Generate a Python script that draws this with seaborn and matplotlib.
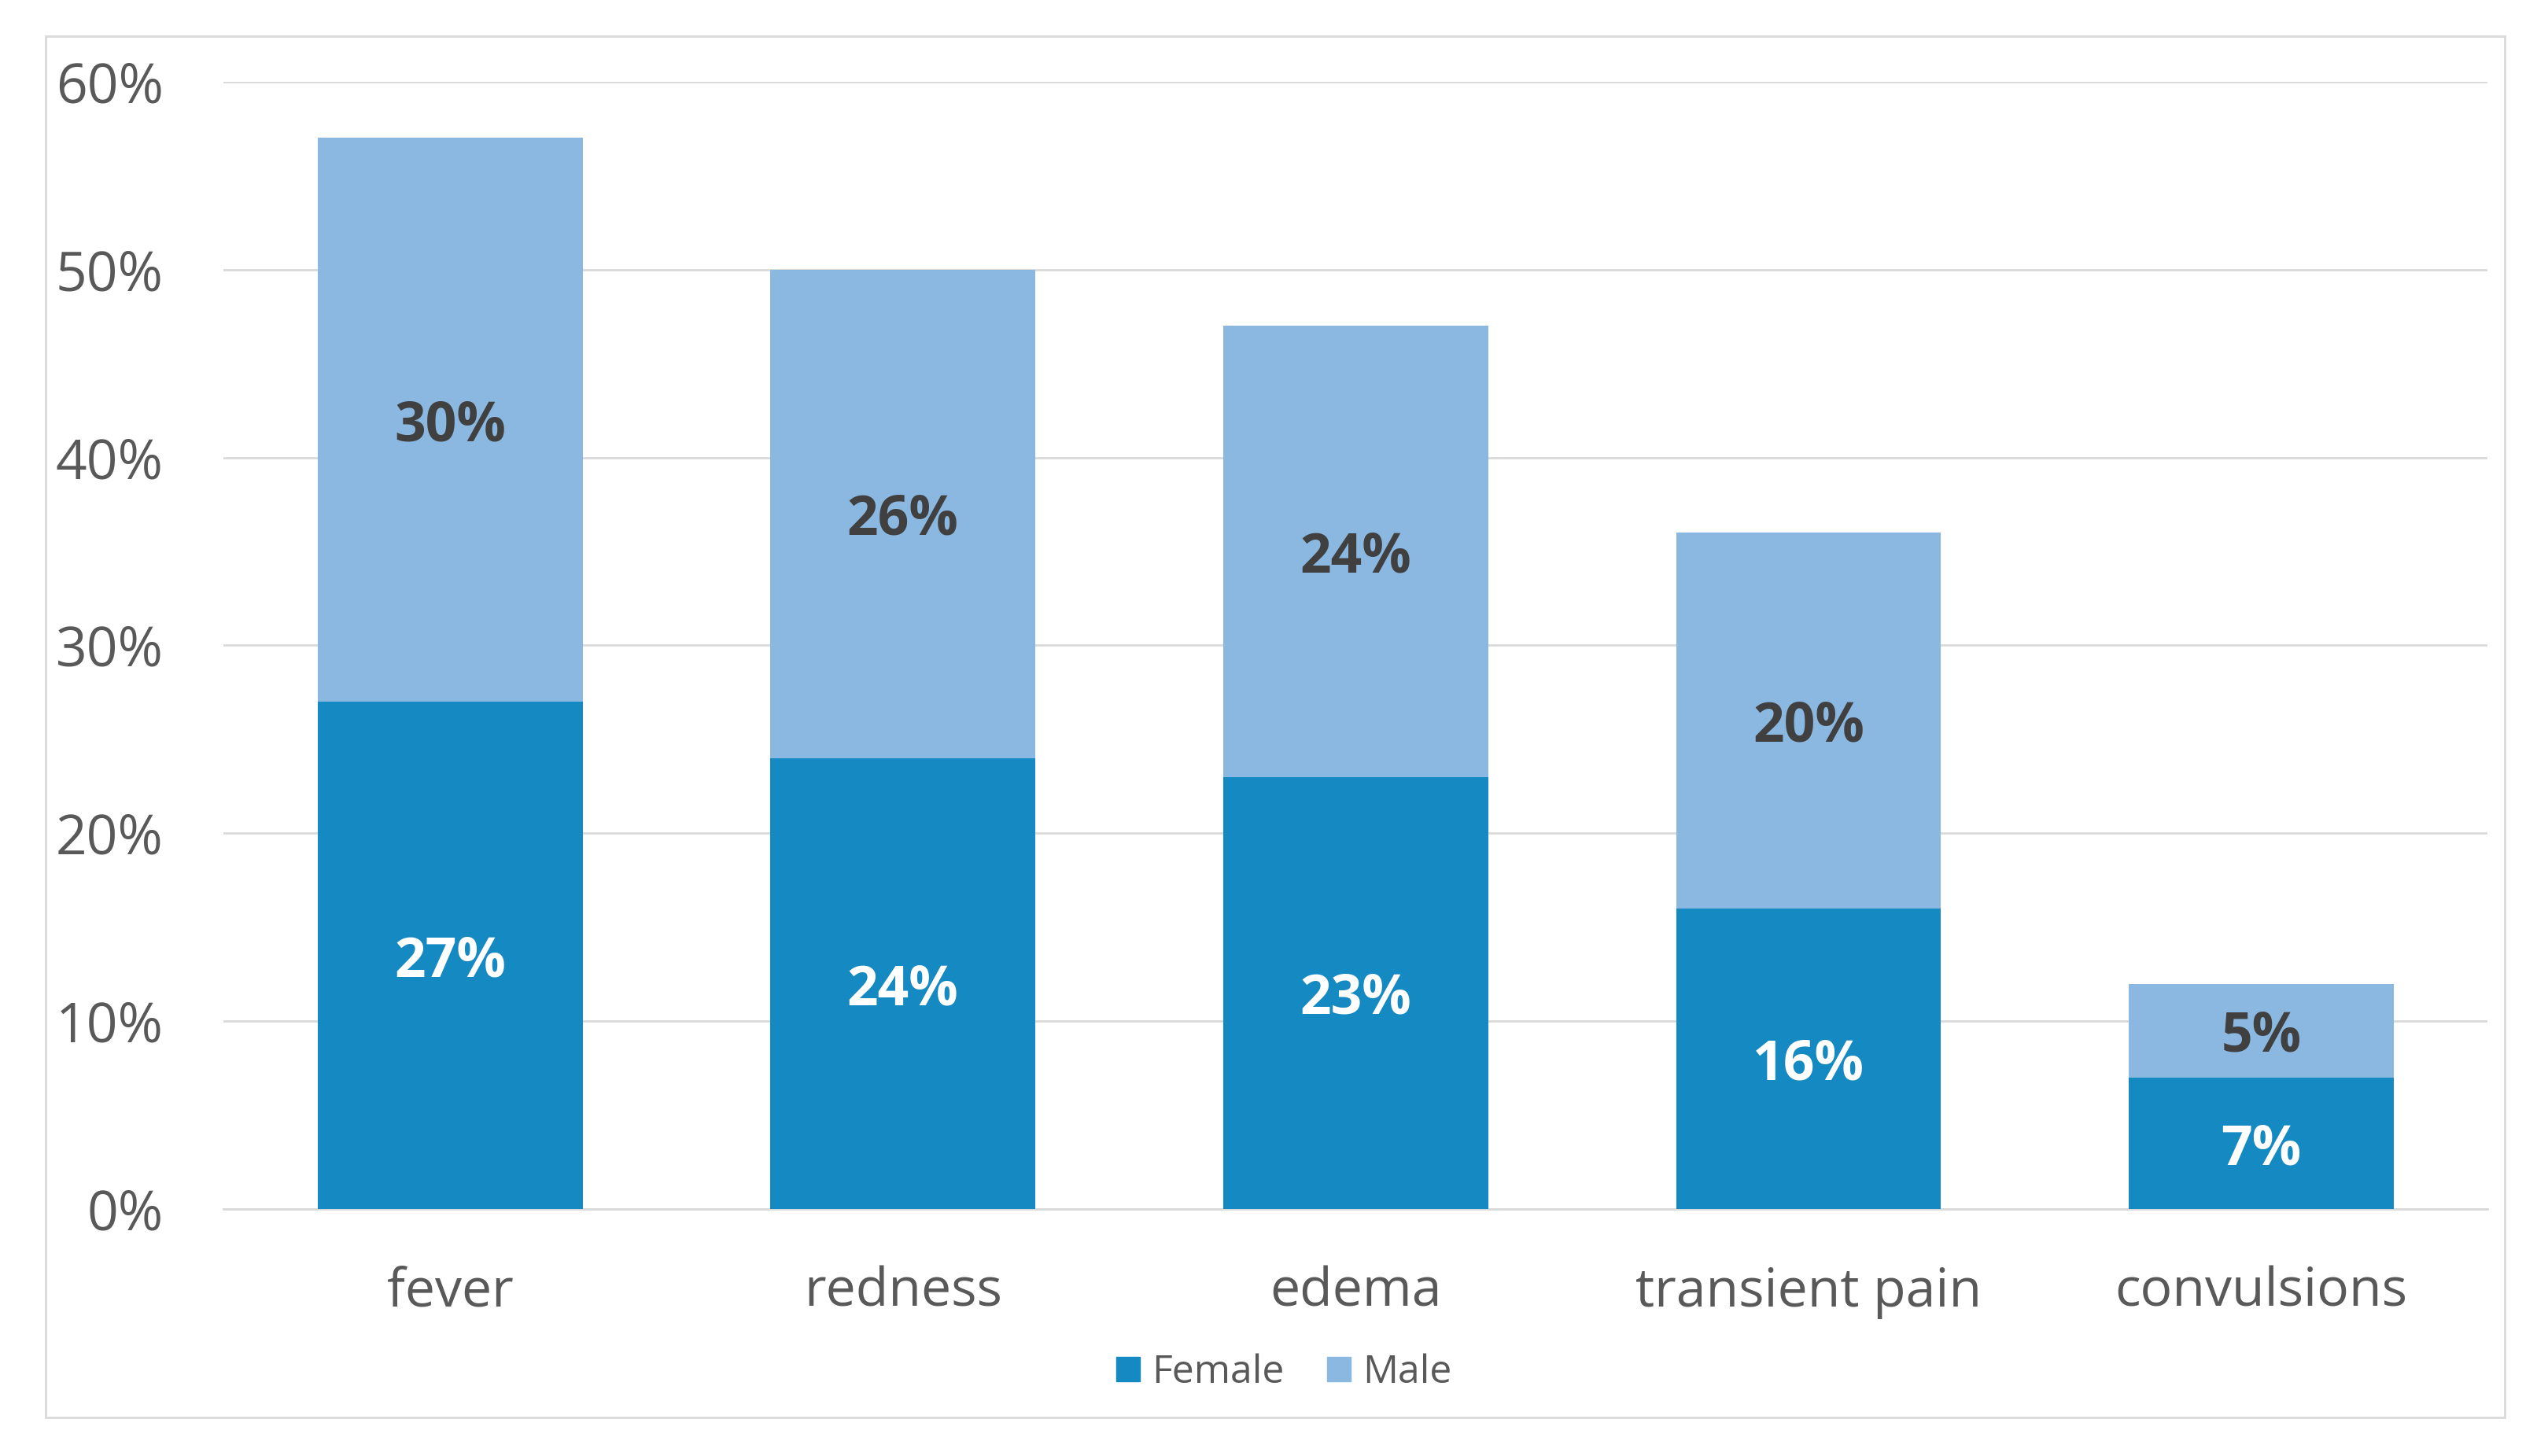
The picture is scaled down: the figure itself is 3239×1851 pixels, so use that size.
import numpy as np
import pandas as pd
import matplotlib.pyplot as plt
import seaborn as sns
from matplotlib.patches import Rectangle, Patch

# data (percent)
categories = ['fever', 'redness', 'edema', 'transient pain', 'convulsions']
female = [27, 24, 23, 16, 7]
male = [30, 26, 24, 20, 5]
yticks = [0, 10, 20, 30, 40, 50, 60]

df = pd.DataFrame({'symptom': categories, 'Female': female, 'Male': male})
df['Total'] = df['Female'] + df['Male']

female_col = '#1589C2'
male_col = '#8BB8E0'
text_col = '#595959'
grid_col = '#D9D9D9'

sns.set_style('white')
plt.rcParams['font.family'] = ['Open Sans', 'DejaVu Sans']

fig = plt.figure(figsize=(32.39, 18.51), dpi=100)
ax = fig.add_axes([0.0878, 0.1695, 0.8885, 0.7745])

# male stacked on top: draw total first, female over it
sns.barplot(data=df, x='symptom', y='Total', color=male_col, width=0.585,
            saturation=1, errorbar=None, linewidth=0, ax=ax, zorder=2)
sns.barplot(data=df, x='symptom', y='Female', color=female_col, width=0.585,
            saturation=1, errorbar=None, linewidth=0, ax=ax, zorder=3)

# value labels
for i, (f, m) in enumerate(zip(female, male)):
    ax.text(i, f / 2, f'{f}%', ha='center', va='center_baseline', color='white',
            fontsize=50, fontweight='bold', zorder=5)
    ax.text(i, f + m / 2, f'{m}%', ha='center', va='center_baseline', color='#404040',
            fontsize=50, fontweight='bold', zorder=5)

ax.set_xlim(-0.5, 4.5)
ax.set_ylim(0, 60)
ax.set_yticks(yticks)
ax.set_yticklabels([f'{t}%' for t in yticks])
ax.set_xlabel('')
ax.set_ylabel('')
ax.yaxis.grid(True, color=grid_col, lw=2)
ax.set_axisbelow(True)
for s in ['top', 'right', 'left']:
    ax.spines[s].set_visible(False)
ax.spines['bottom'].set_color(grid_col)
ax.spines['bottom'].set_linewidth(2)
ax.tick_params(axis='y', length=0, pad=55, labelsize=50, labelcolor=text_col)
ax.tick_params(axis='x', length=0, pad=52, labelsize=49, labelcolor=text_col)

handles = [Patch(color=female_col), Patch(color=male_col)]
fig.legend(handles, ['Female', 'Male'], loc='center', bbox_to_anchor=(0.504, 0.057),
           ncol=2, frameon=False, fontsize=36, handlelength=0.6, handleheight=0.6,
           handletextpad=0.3, columnspacing=1.1, labelcolor=text_col)

# outer frame
fig.add_artist(Rectangle((0.018, 0.0265), 0.965, 0.9485, transform=fig.transFigure,
                         fill=False, edgecolor=grid_col, lw=2))

fig.savefig('out.png', dpi=100)
